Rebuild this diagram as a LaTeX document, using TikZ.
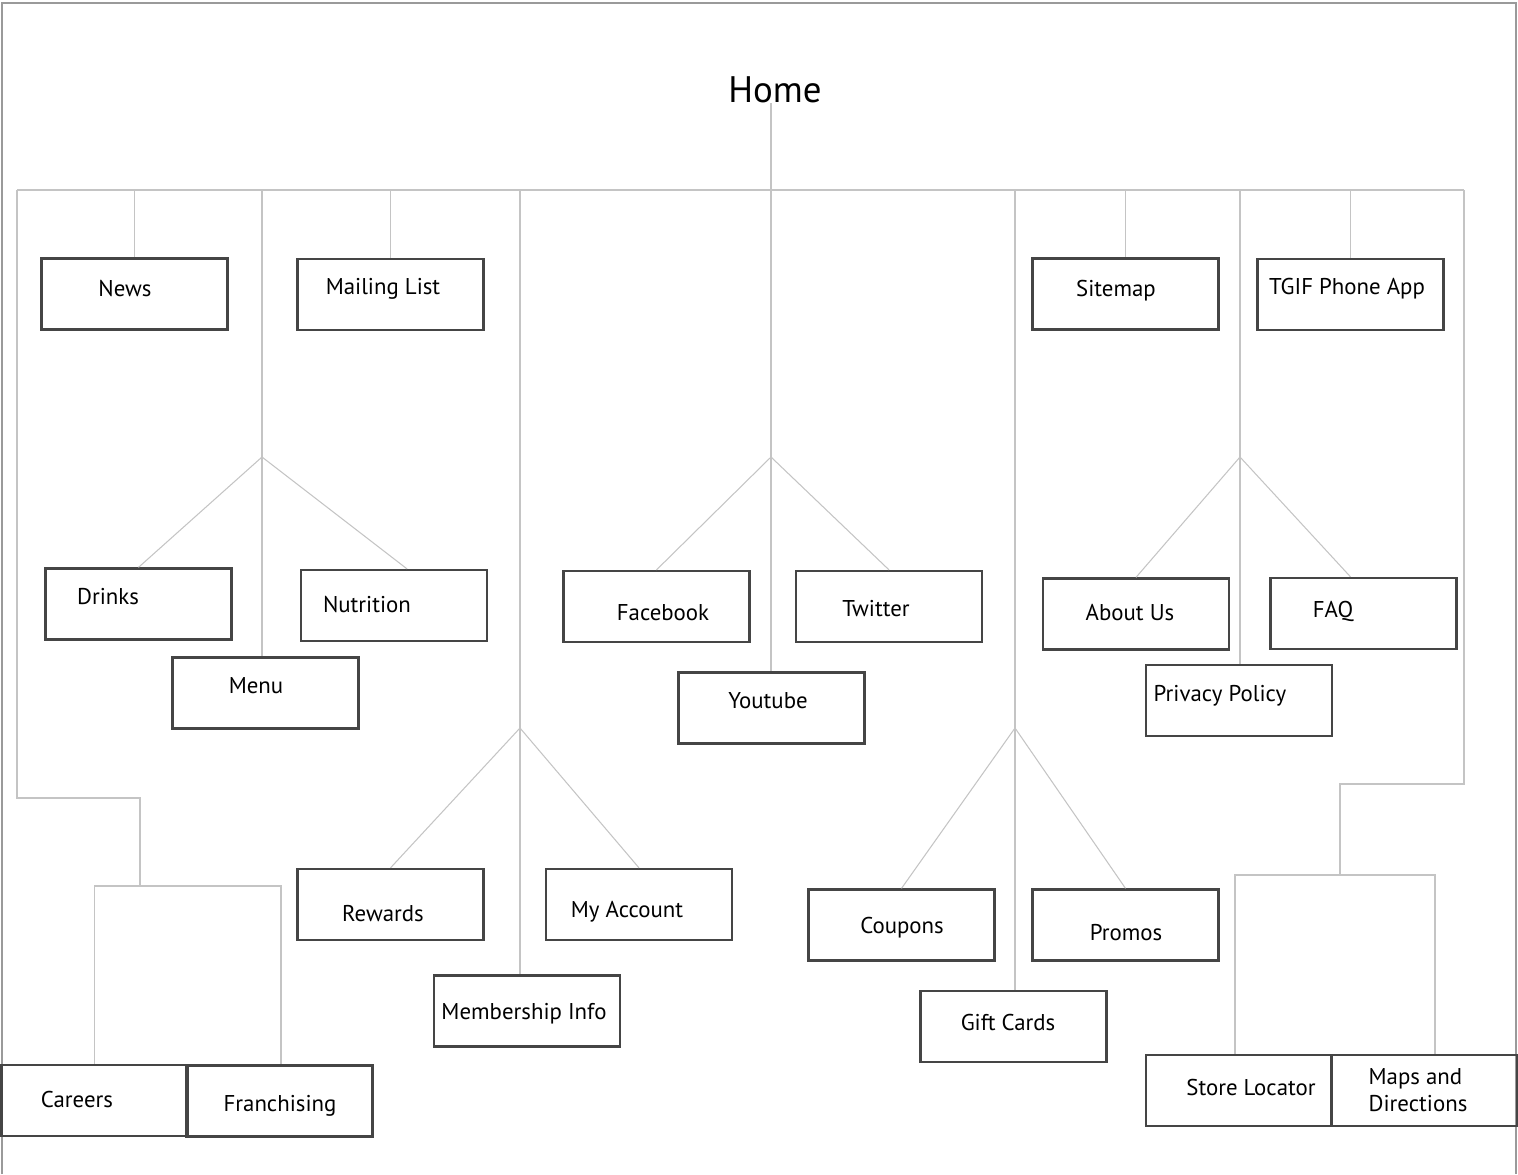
\documentclass[tikz,border=0pt]{standalone}
\usepackage{fontspec}
\setmainfont{PT Sans}
\usetikzlibrary{calc}
\definecolor{linkgray}{HTML}{C4C4C4}
\definecolor{boxgray}{HTML}{454545}
\definecolor{framegray}{HTML}{9A9A9A}
\tikzset{
  pagebox/.style={draw=boxgray, line width=1.3pt, minimum width=3.72cm, minimum height=1.42cm, inner sep=0pt},
  pagetext/.style={font=\fontsize{13}{15.5}\selectfont, inner sep=0pt, align=left},
  pagelabel/.style={pagetext, text height=9pt, text depth=0pt},
  link/.style={draw=linkgray, line width=0.6pt}
}

\begin{document}
\begin{tikzpicture}[x=0.02cm, y=-0.02cm]
        \useasboundingbox (0,0) rectangle (1518,1174);
        % Draw the frame
        \draw[framegray, line width=0.9pt] (2,1174) -- (2,3) -- (1516,3) -- (1516,1174);
        % Home
        \node[font=\fontsize{21}{24}\selectfont, inner sep=0pt] (home) at (775,90) {Home};
        % Junctions
        \coordinate (bus-l) at (17,190);
        \coordinate (bus-r) at (1464,190);
        \coordinate (bus-h) at (771,190);
        \coordinate (menu-j) at (262,457);
        \coordinate (soc-j) at (771,457);
        \coordinate (info-j) at (1240,457);
        \coordinate (rew-j) at (520,728);
        \coordinate (gift-j) at (1015,728);
        \coordinate (car-c1) at (17,798);
        \coordinate (car-c2) at (140,798);
        \coordinate (car-j) at (140,886);
        \coordinate (car-l) at (93,886);
        \coordinate (car-r) at (281,886);
        \coordinate (loc-c1) at (1464,784);
        \coordinate (loc-c2) at (1340,784);
        \coordinate (loc-j) at (1340,875);
        \coordinate (loc-l) at (1235,875);
        \coordinate (loc-r) at (1435,875);
        % Draw the pages
        \node[pagebox] (news) at (134.5,294) {};
        \node[pagebox] (mailing) at (390.5,294.5) {};
        \node[pagebox] (sitemap) at (1125.5,294) {};
        \node[pagebox] (tgif) at (1350.5,294.5) {};
        \node[pagebox] (drinks) at (138.5,604) {};
        \node[pagebox] (nutrition) at (394,605.5) {};
        \node[pagebox] (menu) at (265.5,693) {};
        \node[pagebox] (facebook) at (656.5,606.5) {};
        \node[pagebox] (twitter) at (889,606.5) {};
        \node[pagebox] (youtube) at (771.5,708) {};
        \node[pagebox] (about) at (1136,614) {};
        \node[pagebox] (faq) at (1363.5,613.5) {};
        \node[pagebox] (privacy) at (1239,700.5) {};
        \node[pagebox] (rewards) at (390.5,904.5) {};
        \node[pagebox] (account) at (639,904.5) {};
        \node[pagebox] (member) at (527,1011) {};
        \node[pagebox] (coupons) at (901.5,925) {};
        \node[pagebox] (promos) at (1125.5,925) {};
        \node[pagebox] (gift) at (1013.5,1026.5) {};
        \node[pagebox] (careers) at (94.5,1100.5) {};
        \node[pagebox] (franch) at (279.5,1101) {};
        \node[pagebox] (store) at (1239,1090.5) {};
        \node[pagebox] (maps) at (1424.5,1090.5) {};
        % Label the pages
        \node[pagelabel] (news-t) at (125,289) {News};
        \node[pagelabel] (mailing-t) at (383,287) {Mailing List};
        \node[pagelabel] (sitemap-t) at (1116,289) {Sitemap};
        \node[pagelabel] (tgif-t) at (1347,287) {TGIF Phone App};
        \node[pagelabel] (drinks-t) at (108,597) {Drinks};
        \node[pagelabel] (nutrition-t) at (367,605) {Nutrition};
        \node[pagelabel] (menu-t) at (256,686) {Menu};
        \node[pagelabel] (facebook-t) at (663,613) {Facebook};
        \node[pagelabel] (twitter-t) at (876,609) {Twitter};
        \node[pagelabel] (youtube-t) at (768,701) {Youtube};
        \node[pagelabel] (about-t) at (1130,613) {About Us};
        \node[pagelabel] (faq-t) at (1333,610) {FAQ};
        \node[pagelabel] (privacy-t) at (1220,694) {Privacy Policy};
        \node[pagelabel] (rewards-t) at (383,914) {Rewards};
        \node[pagelabel] (account-t) at (627,910) {My Account};
        \node[pagelabel] (member-t) at (524,1012) {Membership Info};
        \node[pagelabel] (coupons-t) at (902,926) {Coupons};
        \node[pagelabel] (promos-t) at (1126,933) {Promos};
        \node[pagelabel] (gift-t) at (1008,1023) {Gift Cards};
        \node[pagelabel] (careers-t) at (77,1100) {Careers};
        \node[pagelabel] (franch-t) at (280,1104) {Franchising};
        \node[pagelabel] (store-t) at (1251,1088) {Store Locator};
        \node[pagetext] (maps-t) at (1418,1090) {Maps and\\Directions};
        % Draw the links
        \draw[link] (bus-h |- home.south) -- (bus-h) -- (soc-j) -- (soc-j |- youtube.north);
        \draw[link] (bus-l) -- (bus-r);
        \draw[link] (bus-l -| news.north) -- (news.north);
        \draw[link] (bus-l -| mailing.north) -- (mailing.north);
        \draw[link] (bus-l -| sitemap.north) -- (sitemap.north);
        \draw[link] (bus-l -| tgif.north) -- (tgif.north);
        \draw[link] (bus-l -| menu-j) -- (menu-j) -- (menu-j |- menu.north);
        \draw[link] (drinks.north) -- (menu-j) -- ([xshift=0.26cm]nutrition.north);
        \draw[link] (facebook.north) -- (soc-j) -- (twitter.north);
        \draw[link] (bus-l -| info-j) -- (info-j) -- (info-j |- privacy.north);
        \draw[link] (about.north) -- (info-j) -- ([xshift=-0.26cm]faq.north);
        \draw[link] (bus-l -| rew-j) -- (rew-j) -- (rew-j |- member.north);
        \draw[link] (rewards.north) -- (rew-j) -- (account.north);
        \draw[link] (bus-l -| gift-j) -- (gift-j) -- (gift-j |- gift.north);
        \draw[link] (coupons.north) -- (gift-j) -- (promos.north);
        \draw[link] (bus-l) -- (car-c1) -- (car-c2) -- (car-j);
        \draw[link] (careers.north) -- (careers.north |- car-l) -- (car-r) -- (car-r |- franch.north);
        \draw[link] (bus-r) -- (loc-c1) -- (loc-c2) -- (loc-j);
        \draw[link] (loc-l |- store.north) -- (loc-l) -- (loc-r) -- (loc-r |- maps.north);
\end{tikzpicture}
\end{document}
